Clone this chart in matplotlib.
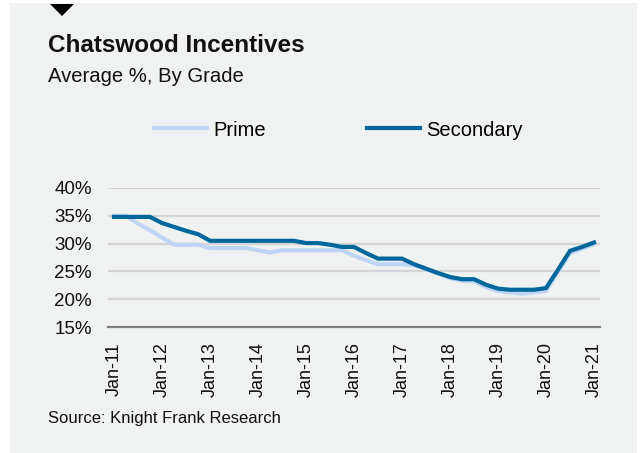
import matplotlib
matplotlib.use("Agg")
import matplotlib.pyplot as plt
from matplotlib.patches import Rectangle, Polygon

plt.rcParams['font.family'] = ['Liberation Sans', 'DejaVu Sans']

years = list(range(11, 22))
tick_labels = [f"Jan-{y}" for y in years]

# quarterly values, Jan-11 .. Jan-21
prime = [35.0, 35.0, 33.6, 32.4, 31.1, 29.8, 29.8, 29.8, 29.2, 29.2, 29.2, 29.2,
         28.8, 28.4, 28.8, 28.8, 28.8, 28.8, 28.8, 28.8, 27.8, 27.0, 26.3, 26.3,
         26.3, 26.1, 25.4, 24.6, 23.8, 23.3, 23.2, 22.2, 21.5, 21.2, 21.0, 21.2,
         21.5, 24.9, 28.3, 29.1, 29.9]
secondary = [34.8, 34.8, 34.8, 34.8, 33.7, 33.0, 32.3, 31.7, 30.5, 30.5, 30.5, 30.5,
             30.5, 30.5, 30.5, 30.5, 30.1, 30.1, 29.8, 29.4, 29.4, 28.3, 27.3, 27.3,
             27.3, 26.3, 25.5, 24.7, 24.0, 23.6, 23.6, 22.6, 21.9, 21.7, 21.7, 21.7,
             22.0, 25.3, 28.7, 29.4, 30.2]
yticks = [15, 20, 25, 30, 35, 40]

W, H = 640, 453
fig = plt.figure(figsize=(W / 100, H / 100), dpi=100)
fig.patch.set_facecolor('white')
bg = '#EFF2F1'
fig.add_artist(Rectangle((10 / W, 0), 627 / W, 1 - 3 / H, transform=fig.transFigure,
                         facecolor=bg, edgecolor='none', zorder=0))
fig.add_artist(Polygon([[50 / W, 1 - 4 / H], [74 / W, 1 - 4 / H], [62 / W, 1 - 16 / H]],
                       closed=True, transform=fig.transFigure, facecolor='black',
                       edgecolor='none'))

fig.text(48 / W, 1 - 46 / H, "Chatswood Incentives", fontsize=17.5, fontweight='bold',
         va='center', ha='left', color='#111111')
fig.text(48 / W, 1 - 76 / H, "Average %, By Grade", fontsize=14.6, va='center', ha='left',
         color='#111111')
fig.text(48 / W, 1 - 418 / H, "Source: Knight Frank Research", fontsize=12,
         va='center', ha='left', color='#111111')

ax = fig.add_axes([108 / W, 1 - 327 / H, 492 / W, 139 / H])
ax.set_facecolor('none')
x = list(range(len(prime)))
ax.plot(x, prime, color='#BFD5F5', lw=3.0, solid_joinstyle='miter', label='Prime', zorder=3)
ax.plot(x, secondary, color='#00679C', lw=3.0, solid_joinstyle='miter', label='Secondary', zorder=4)
ax.set_xlim(-0.5, len(prime) - 0.5)
ax.set_ylim(15, 40)
ax.set_yticks(yticks)
ax.set_yticklabels([f"{v}%" for v in yticks], fontsize=13.5)
for v in yticks[1:]:
    ax.axhline(v, color='#D5D5D5', lw=1.6, zorder=1)
ax.set_xticks(list(range(0, len(prime), 4)))
ax.set_xticklabels(tick_labels, rotation=90, fontsize=13)
for s in ['top', 'right', 'left']:
    ax.spines[s].set_visible(False)
ax.spines['bottom'].set_color('#7F7F7F')
ax.spines['bottom'].set_linewidth(1.6)
ax.tick_params(axis='both', length=0, colors='#111111')
ax.tick_params(axis='y', pad=11.5)
ax.tick_params(axis='x', pad=11)

leg = fig.legend(loc='center left', bbox_to_anchor=(154 / W, 1 - 130 / H), ncol=2,
                 frameon=False, fontsize=14.5, handlelength=2.65, columnspacing=5.0,
                 handletextpad=0.3, borderpad=0, borderaxespad=0)

fig.savefig('out.png', dpi=100, facecolor=fig.get_facecolor())
